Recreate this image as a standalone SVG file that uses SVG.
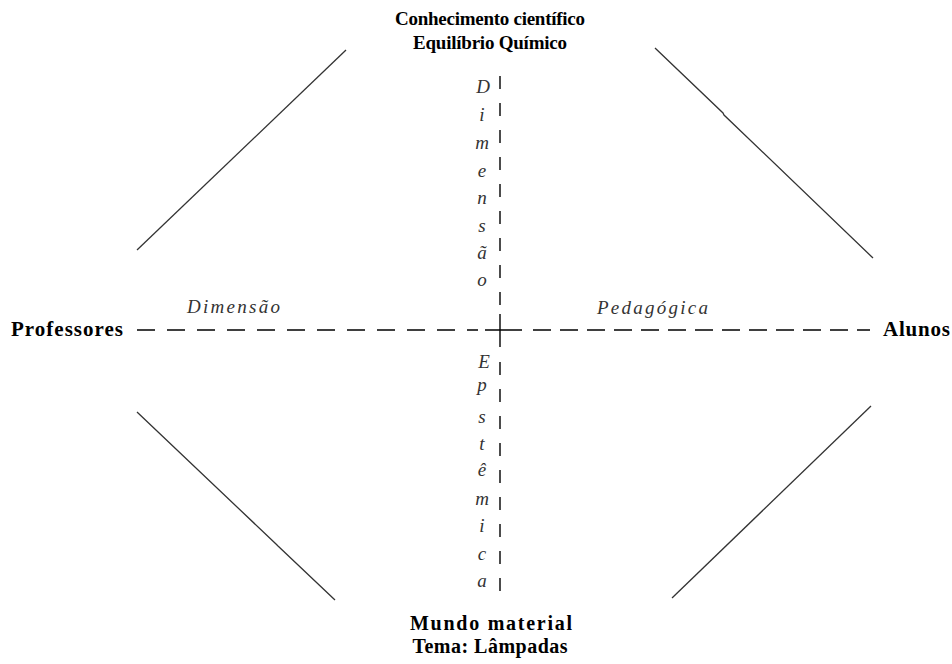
<svg xmlns="http://www.w3.org/2000/svg" width="952" height="664" viewBox="0 0 952 664">
<style>
.bold{font-family:"Liberation Serif","Times New Roman",serif;font-weight:bold;fill:#000}
.it{font-family:"Liberation Serif","Times New Roman",serif;font-style:italic;fill:#333;font-size:19px}
.diag{stroke:#333;stroke-width:1.3;fill:none}
.dash{stroke:#000;stroke-width:1.4;fill:none}
</style>
<rect width="952" height="664" fill="#fff"/>
<g id="connectors">
<line class="diag" x1="137" y1="250" x2="346" y2="50"/>
<polyline class="diag" points="655,48 723,113 724,115 873,258"/>
<polyline class="diag" points="137,412 276,544 278,546 335,600"/>
<line class="diag" x1="871" y1="406" x2="672" y2="598"/>
<line class="dash" x1="137" y1="330" x2="478" y2="330" stroke-dasharray="18 12"/>
<line class="dash" x1="533" y1="330" x2="870" y2="330" stroke-dasharray="18 9"/>
<line class="dash" x1="485" y1="330" x2="522" y2="330"/>
<line class="dash" x1="500" y1="314" x2="500" y2="347"/>
<line class="dash" x1="500" y1="76" x2="500" y2="312" stroke-dasharray="13 14"/>
<line class="dash" x1="500" y1="362" x2="500" y2="600" stroke-dasharray="13 14"/>
</g>
<g id="node-top">
<text class="bold" x="490" y="25" font-size="19" text-anchor="middle" textLength="190">Conhecimento científico</text>
<text class="bold" x="490" y="49" font-size="19" text-anchor="middle" textLength="154">Equilíbrio Químico</text>
</g>
<g id="node-bottom">
<text class="bold" x="491" y="630" font-size="20" text-anchor="middle" textLength="162">Mundo material</text>
<text class="bold" x="490" y="653" font-size="20" text-anchor="middle" textLength="155">Tema: Lâmpadas</text>
</g>
<g id="node-left">
<text class="bold" x="11" y="336" font-size="21" textLength="112">Professores</text>
</g>
<g id="node-right">
<text class="bold" x="883" y="336" font-size="21" textLength="67">Alunos</text>
</g>
<g id="label-dimensao-h">
<text class="it" x="187" y="313" textLength="93">Dimensão</text>
</g>
<g id="label-pedagogica">
<text class="it" x="597" y="314" textLength="111">Pedagógica</text>
</g>
<g id="label-dimensao-v" class="it" text-anchor="middle">
<text x="483" y="93">D</text>
<text x="482" y="121">i</text>
<text x="482" y="149">m</text>
<text x="482" y="177">e</text>
<text x="482" y="204">n</text>
<text x="482" y="232">s</text>
<text x="482" y="259">ã</text>
<text x="482" y="286">o</text>
</g>
<g id="label-epistemica" class="it" text-anchor="middle">
<text x="484" y="368">E</text>
<text x="482" y="391">p</text>
<text x="482" y="423">s</text>
<text x="482" y="450">t</text>
<text x="482" y="476">ê</text>
<text x="482" y="505">m</text>
<text x="482" y="532">i</text>
<text x="482" y="560">c</text>
<text x="482" y="587">a</text>
</g>
</svg>
